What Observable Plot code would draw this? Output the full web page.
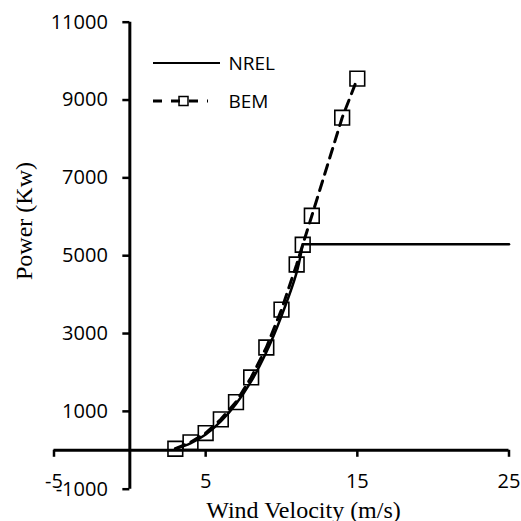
<!DOCTYPE html>
<html><head><meta charset="utf-8">
<script src="https://cdn.jsdelivr.net/npm/d3@7"></script>
<script src="https://cdn.jsdelivr.net/npm/@observablehq/plot@0.6"></script>
<style>body{margin:0;background:#fff} #chart{width:521px;height:521px;position:relative}</style>
</head><body><div id="chart"></div>
<script>
// NREL reference power curve
const nrelWind  = [3, 4, 5, 6, 7, 8, 9, 10, 11, 11.4, 25];
const nrelPower = [40, 180, 405, 740, 1190, 1770, 2520, 3450, 4570, 5296, 5296];
// BEM computed points
const bemWind  = [3, 4, 5, 6, 7, 8, 9, 10, 11, 11.4, 12, 14, 15];
const bemPower = [40, 205, 443, 795, 1238, 1872, 2641, 3615, 4774, 5282, 6026, 8546, 9551];
// axes ticks
const xTicks = [-5, 5, 15, 25];
const yTicks = [-1000, 1000, 3000, 5000, 7000, 9000, 11000];
const ratedSpeed = 11.4;

const nrel = nrelWind.map((w, i) => ({w, p: nrelPower[i]}));
const nrelRise = nrel.filter(d => d.w <= ratedSpeed);
const nrelFlat = nrel.filter(d => d.w >= ratedSpeed);
const bem = bemWind.map((w, i) => ({w, p: bemPower[i]}));

const sans = "Open Sans, Lato, sans-serif";
const serif = "Liberation Serif, Times New Roman, serif";

const plot = Plot.plot({
  width: 521, height: 521,
  marginLeft: 53.5, marginRight: 12.5, marginTop: 21.7, marginBottom: 32.3,
  style: {background: "#fff", overflow: "visible"},
  x: {domain: [xTicks[0], xTicks[xTicks.length - 1]], axis: null},
  y: {domain: [yTicks[0], yTicks[yTicks.length - 1]], axis: null},
  marks: [
    // axis lines crossing at the origin
    Plot.ruleX([0], {y1: yTicks[0], y2: yTicks[yTicks.length - 1], stroke: "#000", strokeWidth: 3}),
    Plot.ruleY([0], {x1: xTicks[0], x2: xTicks[xTicks.length - 1], stroke: "#000", strokeWidth: 3}),
    // tick marks
    Plot.ruleY(yTicks, {y: d => d, x1: 0, x2: 0, insetLeft: -7, stroke: "#000", strokeWidth: 2.5}),
    Plot.ruleX(xTicks, {x: d => d, y1: 0, y2: 0, insetBottom: -7, stroke: "#000", strokeWidth: 2.5}),
    // tick labels
    Plot.text(yTicks, {y: d => d, x: 0, dx: -22, text: d => String(d), textAnchor: "end",
      lineAnchor: "middle", fontFamily: sans, fontSize: 20, fill: "#000"}),
    Plot.text(xTicks, {x: d => d, frameAnchor: "bottom", lineAnchor: "middle", dy: -7.7, text: d => String(d),
      fontFamily: sans, fontSize: 20, fill: "#000"}),
    // data
    Plot.line(nrelRise, {x: "w", y: "p", curve: "catmull-rom", stroke: "#000", strokeWidth: 2.5}),
    Plot.line(nrelFlat, {x: "w", y: "p", stroke: "#000", strokeWidth: 2.5}),
    Plot.line(bem, {x: "w", y: "p", stroke: "#000", strokeWidth: 3, strokeDasharray: "10,7"}),
    Plot.dot(bem, {x: "w", y: "p", symbol: "square", r: 8.3, fill: "none", stroke: "#000", strokeWidth: 1.6}),
    // axis titles
    Plot.text(["Power (Kw)"], {frameAnchor: "left", lineAnchor: "middle", rotate: -90, dx: -29.5, dy: 24.3,
      fontFamily: serif, fontSize: 24, fill: "#000"}),
    Plot.text(["Wind Velocity (m/s)"], {frameAnchor: "bottom", lineAnchor: "middle", dx: 22, dy: 21,
      fontFamily: serif, fontSize: 24, fill: "#000"}),
    // legend labels
    Plot.text(["NREL"], {frameAnchor: "top-left", lineAnchor: "middle", dx: 228 - 53.5, dy: 63 - 21.7, textAnchor: "start",
      fontFamily: sans, fontSize: 19, fill: "#000"}),
    Plot.text(["BEM"], {frameAnchor: "top-left", lineAnchor: "middle", dx: 228 - 53.5, dy: 101 - 21.7, textAnchor: "start",
      fontFamily: sans, fontSize: 19, fill: "#000"})
  ]
});

// legend swatches
const svg = d3.select(plot);
const g = svg.append("g");
g.append("line").attr("x1", 153).attr("x2", 220).attr("y1", 63).attr("y2", 63)
  .attr("stroke", "#000").attr("stroke-width", 2);
g.append("line").attr("x1", 153).attr("x2", 208).attr("y1", 101).attr("y2", 101)
  .attr("stroke", "#000").attr("stroke-width", 3).attr("stroke-dasharray", "9,9");
g.append("rect").attr("x", 179).attr("y", 96.5).attr("width", 9).attr("height", 9)
  .attr("fill", "none").attr("stroke", "#000").attr("stroke-width", 1.5);

document.getElementById("chart").appendChild(plot);
</script>
</body></html>
